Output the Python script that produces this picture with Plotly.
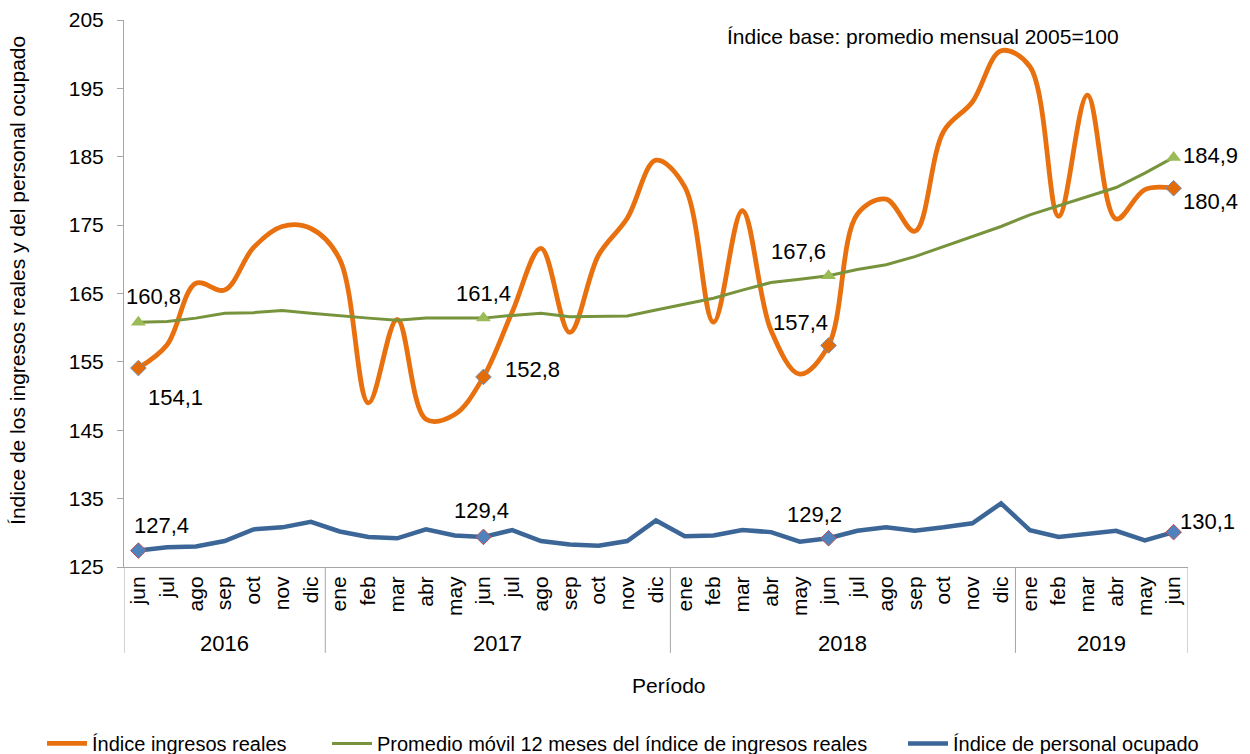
import plotly.graph_objects as go

# ---------------- data ----------------
months = ["jun", "jul", "ago", "sep", "oct", "nov", "dic",
          "ene", "feb", "mar", "abr", "may", "jun", "jul", "ago", "sep", "oct", "nov", "dic",
          "ene", "feb", "mar", "abr", "may", "jun", "jul", "ago", "sep", "oct", "nov", "dic",
          "ene", "feb", "mar", "abr", "may", "jun"]
years = ["2016"] * 7 + ["2017"] * 12 + ["2018"] * 12 + ["2019"] * 6

ingresos = [154.1, 157.5, 166.5, 165.5, 171.7, 174.8, 174.5, 170.0, 149.0, 161.2, 146.6, 147.3,
            152.8, 162.3, 171.6, 159.3, 170.6, 176.0, 184.5, 180.6, 160.8, 177.1, 159.6, 153.2,
            157.4, 176.6, 178.8, 174.1, 188.7, 193.0, 200.5, 198.2, 176.3, 194.0, 175.9, 180.2, 180.4]
promedio = [160.8, 160.9, 161.4, 162.1, 162.2, 162.5, 162.1, 161.7, 161.4, 161.1, 161.4, 161.4,
            161.4, 161.8, 162.1, 161.6, 161.6, 161.7, 162.6, 163.4, 164.3, 165.5, 166.6, 167.1,
            167.6, 168.5, 169.2, 170.4, 171.9, 173.3, 174.8, 176.5, 177.8, 179.1, 180.5, 182.6, 184.9]
personal = [127.4, 127.9, 128.0, 128.8, 130.5, 130.8, 131.6, 130.2, 129.4, 129.2, 130.5, 129.6,
            129.4, 130.4, 128.8, 128.3, 128.1, 128.8, 131.8, 129.5, 129.6, 130.4, 130.1, 128.7,
            129.2, 130.3, 130.8, 130.3, 130.8, 131.4, 134.3, 130.4, 129.4, 129.8, 130.3, 128.9, 130.1]

labeled = [0, 12, 24, 36]  # points with data labels (junio de cada año)

names = ["Índice ingresos reales",
         "Promedio móvil 12 meses del índice de ingresos reales",
         "Índice de personal ocupado"]

# ---------------- styling ----------------
FONT = "Liberation Sans, Arial, sans-serif"
C_OR = "#E8700E"
C_GR = "#77933C"
C_GR_M = "#9BBB59"
C_BL = "#3C6697"
C_BL_M = "#4F81BD"
AX = "#A6A6A6"

x = list(range(len(months)))

fig = go.Figure()
fig.add_trace(go.Scatter(x=x, y=ingresos, mode="lines", name=names[0], legend="legend",
                         line=dict(color=C_OR, width=4.8, shape="spline", smoothing=1.0)))
fig.add_trace(go.Scatter(x=x, y=promedio, mode="lines", name=names[1], legend="legend2",
                         line=dict(color=C_GR, width=3)))
fig.add_trace(go.Scatter(x=x, y=personal, mode="lines", name=names[2], legend="legend3",
                         line=dict(color=C_BL, width=4.5)))

# markers at labeled points
fig.add_trace(go.Scatter(x=[x[i] for i in labeled], y=[ingresos[i] for i in labeled], mode="markers",
                         showlegend=False,
                         marker=dict(symbol="diamond", size=12, color="#E36C09",
                                     line=dict(color="#6F8DB5", width=1))))
fig.add_trace(go.Scatter(x=[x[i] for i in labeled], y=[promedio[i] for i in labeled], mode="markers",
                         showlegend=False,
                         marker=dict(symbol="triangle-up", size=13, color=C_GR_M,
                                     line=dict(width=0))))
fig.add_trace(go.Scatter(x=[x[i] for i in labeled], y=[personal[i] for i in labeled], mode="markers",
                         showlegend=False,
                         marker=dict(symbol="diamond", size=12, color=C_BL_M,
                                     line=dict(color="#C0504D", width=1))))

def fmt(v):
    return f"{v:.1f}".replace(".", ",")

ann = []
# label offsets (pixels) for each series at labeled points
off_or = [(37, -29), (49, 7), (-28, 23), (37, -13)]
off_gr = [(15, 26), (0, 25), (-30, 24), (37, 2)]
off_bl = [(23, 25), (-2, 26), (-14, 24), (34, 11)]
for series, offs in ((ingresos, off_or), (promedio, off_gr), (personal, off_bl)):
    for k, i in enumerate(labeled):
        ann.append(dict(x=x[i], y=series[i], xref="x", yref="y", text=fmt(series[i]),
                        showarrow=False, xshift=offs[k][0], yshift=offs[k][1],
                        xanchor="center", yanchor="middle",
                        font=dict(family=FONT, size=22, color="black")))

# year group labels and separators
groups = []
for i, yv in enumerate(years):
    if not groups or groups[-1][0] != yv:
        groups.append([yv, i, i])
    else:
        groups[-1][2] = i
shapes = []
for yv, a, b in groups:
    ann.append(dict(x=(a + b) / 2, y=-0.139, xref="x", yref="paper", text=yv, showarrow=False,
                    xanchor="center", yanchor="middle",
                    font=dict(family=FONT, size=22, color="black")))
    shapes.append(dict(type="line", xref="x", yref="paper", x0=a - 0.5, x1=a - 0.5, y0=0, y1=-0.157,
                       line=dict(color=AX, width=1)))
shapes.append(dict(type="line", xref="x", yref="paper", x0=len(x) - 0.5, x1=len(x) - 0.5,
                   y0=0, y1=-0.157, line=dict(color=AX, width=1)))

ann.append(dict(x=0.512, y=-0.216, xref="paper", yref="paper", text="Período", showarrow=False,
                xanchor="center", yanchor="middle",
                font=dict(family=FONT, size=21, color="black")))
ann.append(dict(x=-0.0996, y=0.523, xref="paper", yref="paper", textangle=-90,
                text="Índice de los ingresos reales y del personal ocupado", showarrow=False,
                xanchor="center", yanchor="middle",
                font=dict(family=FONT, size=21, color="black")))
ann.append(dict(x=0.751, y=0.969, xref="paper", yref="paper",
                text="Índice base: promedio mensual 2005=100", showarrow=False,
                xanchor="center", yanchor="middle",
                font=dict(family=FONT, size=21, color="black")))

leg_common = dict(orientation="h", xref="container", yref="container", xanchor="left",
                  yanchor="middle", y=0.014, itemwidth=40, bgcolor="rgba(0,0,0,0)",
                  font=dict(family=FONT, size=20, color="black"))

fig.update_layout(
    width=1250, height=754,
    margin=dict(l=124, r=62, t=20, b=187, autoexpand=False),
    paper_bgcolor="white", plot_bgcolor="white",
    font=dict(family=FONT, size=20, color="black"),
    showlegend=True,
    legend=dict(x=0.0336, **leg_common),
    legend2=dict(x=0.2616, **leg_common),
    legend3=dict(x=0.7224, **leg_common),
    annotations=ann,
    shapes=shapes,
)
fig.update_xaxes(range=[-0.5, len(x) - 0.5], tickmode="array", tickvals=x, ticktext=months,
                 tickangle=-90, showgrid=False, zeroline=False, showline=True, linecolor=AX,
                 linewidth=1, ticks="", automargin=False,
                 tickfont=dict(family=FONT, size=21, color="black"))
fig.update_yaxes(range=[125, 205], dtick=10, tick0=125, showgrid=False, zeroline=False,
                 showline=True, linecolor=AX, linewidth=1, ticks="outside", ticklen=6,
                 tickcolor=AX, automargin=False, ticklabelstandoff=9,
                 tickfont=dict(family=FONT, size=21, color="black"))

fig.write_html("out.html", config={"displayModeBar": False},
               post_script="document.body.style.margin='0';document.body.style.overflow='hidden';")
